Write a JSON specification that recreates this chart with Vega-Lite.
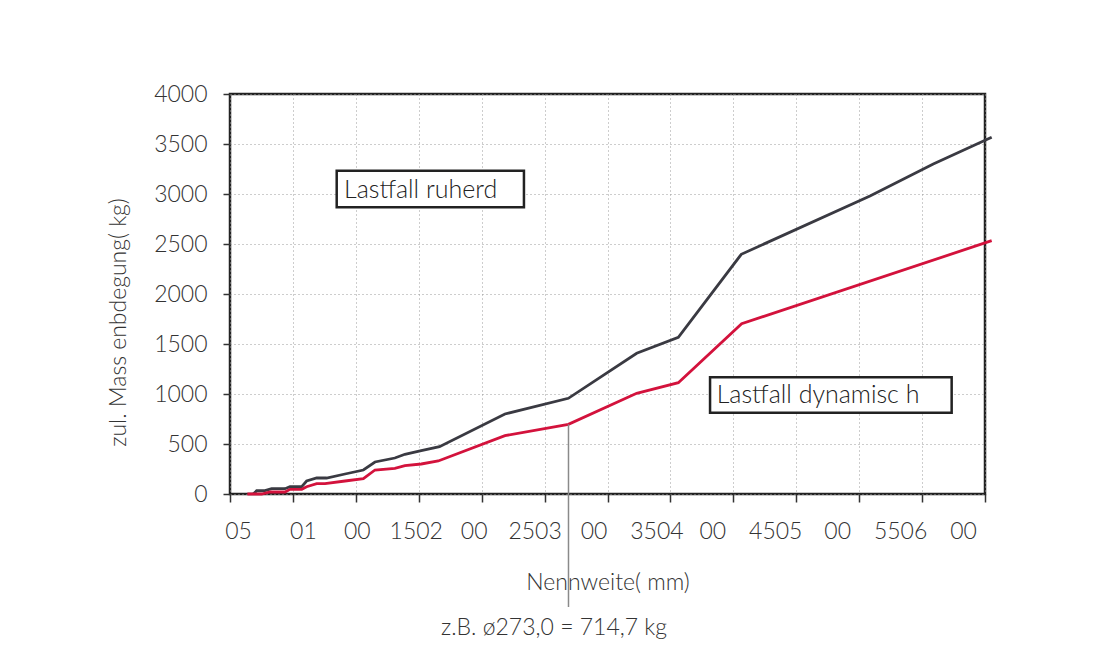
{
  "$schema": "https://vega.github.io/schema/vega-lite/v6.json",
  "autosize": {"type": "none"},
  "width": 755,
  "height": 400,
  "padding": {"left": 230, "top": 94, "right": 135, "bottom": 174},
  "background": "white",
  "config": {
    "view": {"stroke": "#222222", "strokeWidth": 2.5},
    "font": "Lato",
    "axis": {"labelFont": "Lato", "titleFont": "Lato", "labelFontWeight": 300, "titleFontWeight": 300}
  },
  "datasets": {
    "lines": [
      {"x": 18.5, "y": 0, "s": "ruhend"}, {"x": 21.2, "y": 33, "s": "ruhend"}, {"x": 27.8, "y": 33, "s": "ruhend"},
      {"x": 33.1, "y": 53, "s": "ruhend"}, {"x": 43.7, "y": 53, "s": "ruhend"}, {"x": 47.7, "y": 73, "s": "ruhend"},
      {"x": 57, "y": 73, "s": "ruhend"}, {"x": 60.9, "y": 130, "s": "ruhend"}, {"x": 68.9, "y": 160, "s": "ruhend"},
      {"x": 76.8, "y": 160, "s": "ruhend"}, {"x": 91.4, "y": 200, "s": "ruhend"}, {"x": 106, "y": 240, "s": "ruhend"},
      {"x": 115.2, "y": 320, "s": "ruhend"}, {"x": 131, "y": 360, "s": "ruhend"}, {"x": 139, "y": 397, "s": "ruhend"},
      {"x": 152, "y": 433, "s": "ruhend"}, {"x": 166.5, "y": 473, "s": "ruhend"}, {"x": 218.5, "y": 800, "s": "ruhend"},
      {"x": 268.9, "y": 957, "s": "ruhend"}, {"x": 323.2, "y": 1407, "s": "ruhend"}, {"x": 356.3, "y": 1567, "s": "ruhend"},
      {"x": 406.3, "y": 2397, "s": "ruhend"}, {"x": 508.6, "y": 2980, "s": "ruhend"}, {"x": 558.9, "y": 3300, "s": "ruhend"},
      {"x": 605.3, "y": 3567, "s": "ruhend"},
      {"x": 13.8, "y": 0, "s": "dynamisch"}, {"x": 25.2, "y": 0, "s": "dynamisch"}, {"x": 31.8, "y": 20, "s": "dynamisch"},
      {"x": 43.7, "y": 20, "s": "dynamisch"}, {"x": 47.7, "y": 47, "s": "dynamisch"}, {"x": 57, "y": 47, "s": "dynamisch"},
      {"x": 60.9, "y": 73, "s": "dynamisch"}, {"x": 68.9, "y": 103, "s": "dynamisch"}, {"x": 75.5, "y": 103, "s": "dynamisch"},
      {"x": 91.4, "y": 130, "s": "dynamisch"}, {"x": 106, "y": 153, "s": "dynamisch"}, {"x": 115.2, "y": 240, "s": "dynamisch"},
      {"x": 131, "y": 257, "s": "dynamisch"}, {"x": 139, "y": 283, "s": "dynamisch"}, {"x": 152, "y": 300, "s": "dynamisch"},
      {"x": 165.5, "y": 330, "s": "dynamisch"}, {"x": 218.5, "y": 583, "s": "dynamisch"}, {"x": 268.9, "y": 697, "s": "dynamisch"},
      {"x": 323.2, "y": 1007, "s": "dynamisch"}, {"x": 356.3, "y": 1113, "s": "dynamisch"}, {"x": 406.6, "y": 1703, "s": "dynamisch"},
      {"x": 605.3, "y": 2533, "s": "dynamisch"}
    ],
    "boxes": [
      {"x": 84.8, "x2": 233.6, "y": 3233, "y2": 2867},
      {"x": 381.5, "x2": 573.5, "y": 1167, "y2": 813}
    ],
    "labels": [
      {"x": 90.6, "y": 3040, "t": "Lastfall ruherd"},
      {"x": 386.8, "y": 990, "t": "Lastfall dynamisc h"}
    ],
    "marker": [{"x": 269, "y": 697, "y2": -1130}],
    "note": [{"x": 257.5, "y": -1340, "t": "z.B. ø273,0 = 714,7 kg"}]
  },
  "encoding": {
    "x": {
      "field": "x", "type": "quantitative",
      "scale": {"domain": [0, 600], "nice": false, "zero": false},
      "axis": {
        "title": "Nennweite( mm)",
        "values": [0, 50, 100, 150, 200, 250, 300, 350, 400, 450, 500, 550, 600],
        "labelExpr": "['05','01','00','1502','00','2503','00','3504','00','4505','00','5506','00'][round(datum.value/50)]",
        "domain": false,
        "grid": true, "gridColor": "#9a9a9a", "gridDash": [1, 3], "gridWidth": 1,
        "ticks": true, "tickSize": 8, "tickColor": "#333333", "tickWidth": 1.5,
        "labelFontSize": 23, "labelColor": "#333333", "labelPadding": 18,
        "labelFlush": false, "labelOverlap": false,
        "labelOffset": {
          "condition": [
            {"test": "datum.value < 25", "value": 8},
            {"test": "datum.value < 75", "value": 10},
            {"test": "datum.value < 125", "value": 1},
            {"test": "datum.value < 175", "value": -3},
            {"test": "datum.value < 225", "value": -8},
            {"test": "datum.value < 275", "value": -10},
            {"test": "datum.value < 375", "value": -14},
            {"test": "datum.value < 475", "value": -21}
          ],
          "value": -22
        },
        "titleFontSize": 23, "titleColor": "#333333", "titlePadding": 28
      }
    },
    "y": {
      "field": "y", "type": "quantitative",
      "scale": {"domain": [0, 4000], "nice": false},
      "axis": {
        "title": "zul. Mass enbdegung( kg)",
        "values": [0, 500, 1000, 1500, 2000, 2500, 3000, 3500, 4000],
        "format": "d",
        "domain": false,
        "grid": true, "gridColor": "#9a9a9a", "gridDash": [1, 3], "gridWidth": 1,
        "ticks": true, "tickSize": 7, "tickColor": "#333333", "tickWidth": 1.5,
        "labelFontSize": 23, "labelColor": "#333333", "labelPadding": 16,
        "labelFlush": false, "labelOverlap": false,
        "titleFontSize": 23, "titleColor": "#333333", "titlePadding": 23,
        "titleY": 228
      }
    }
  },
  "layer": [
    {
      "data": {"name": "lines"},
      "mark": {"type": "line", "strokeWidth": 2.8},
      "encoding": {
        "color": {
          "field": "s", "type": "nominal",
          "scale": {"domain": ["ruhend", "dynamisch"], "range": ["#3a3a42", "#d3123c"]},
          "legend": null
        }
      }
    },
    {
      "data": {"name": "marker"},
      "mark": {"type": "rule", "color": "#8a8a8a", "strokeWidth": 1.5},
      "encoding": {
        "y2": {"field": "y2"}
      }
    },
    {
      "data": {"name": "boxes"},
      "mark": {"type": "rect", "fill": "white", "stroke": "#222222", "strokeWidth": 2.5},
      "encoding": {
        "x2": {"field": "x2"},
        "y2": {"field": "y2"}
      }
    },
    {
      "data": {"name": "labels"},
      "mark": {"type": "text", "align": "left", "baseline": "middle", "fontSize": 25, "fontWeight": 300, "color": "#222222", "font": "Lato"},
      "encoding": {
        "text": {"field": "t"}
      }
    },
    {
      "data": {"name": "note"},
      "mark": {"type": "text", "align": "center", "baseline": "middle", "fontSize": 23, "fontWeight": 300, "color": "#333333", "font": "Lato"},
      "encoding": {
        "text": {"field": "t"}
      }
    }
  ]
}
